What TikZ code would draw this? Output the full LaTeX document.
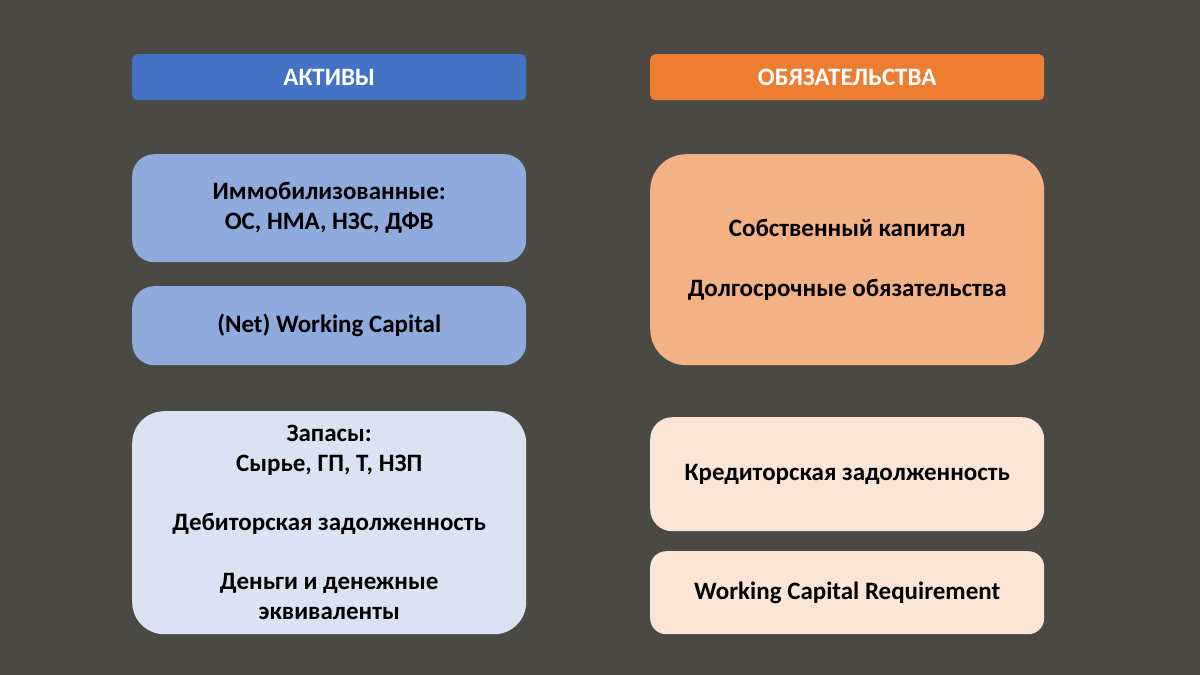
\documentclass[tikz,border=0pt]{standalone}
\usepackage{fontspec}
\setmainfont{Carlito}
\definecolor{slidebg}{HTML}{4B4943}
\definecolor{aktblue}{HTML}{4472C4}
\definecolor{obzorange}{HTML}{ED7D31}
\definecolor{midblue}{HTML}{8FAADC}
\definecolor{paleblue}{HTML}{DAE3F3}
\definecolor{midorange}{HTML}{F4B183}
\definecolor{paleorange}{HTML}{FBE5D6}
\begin{document}
\begin{tikzpicture}[x=1pt,y=-1pt]
  \tikzstyle{every node}=[font=\fontsize{25}{30}\selectfont\bfseries,align=center,inner sep=0pt,
    minimum width=394pt,anchor=north west]
  \tikzstyle{header}=[rounded corners=5pt,minimum height=46pt,text=white,
    font=\fontsize{25}{30}\selectfont\bfseries]
  \tikzstyle{block}=[rounded corners=22pt,text=black]

  \fill[slidebg] (0,0) rectangle (1200,675);

  % column headers
  \node [header,fill=aktblue] (akt) at (132,54) {АКТИВЫ};
  \node [header,fill=obzorange] (obz) at (650,54) {ОБЯЗАТЕЛЬСТВА};

  % assets
  \node [block,fill=midblue,minimum height=108pt] (immob) at (132,154)
    {Иммобилизованные:\\ОС, НМА, НЗС, ДФВ};
  \node [block,fill=midblue,minimum height=79pt] (nwc) at (132,286)
    {(Net) Working Capital};
  \node [block,fill=paleblue,minimum height=223pt,rounded corners=32pt] (current) at (132,411)
    {Запасы:\\Сырье, ГП, Т, НЗП\\[29pt]Дебиторская задолженность\\[29pt]Деньги и денежные\\эквиваленты};

  % liabilities
  \node [block,fill=midorange,minimum height=211pt,rounded corners=36pt] (equity) at (650,154)
    {Собственный капитал\\[30pt]Долгосрочные обязательства};
  \node [block,fill=paleorange,minimum height=114pt] (payable) at (650,417)
    {Кредиторская задолженность};
  \node [block,fill=paleorange,minimum height=83pt,rounded corners=16pt] (wcr) at (650,551)
    {Working Capital Requirement};
\end{tikzpicture}
\end{document}
